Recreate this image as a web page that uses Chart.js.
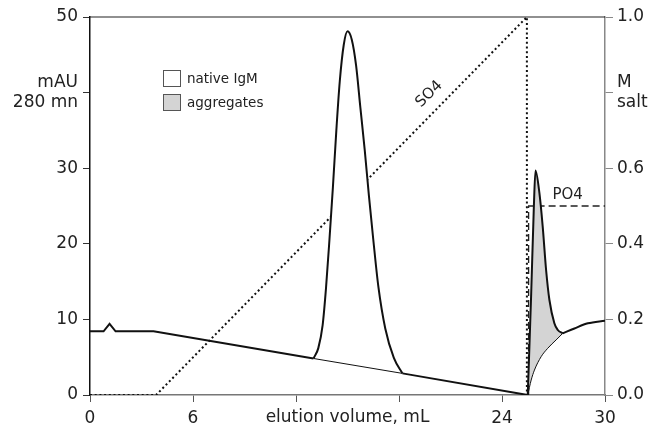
<!DOCTYPE html>
<html>
<head>
<meta charset="utf-8">
<script src="https://cdn.jsdelivr.net/npm/chart.js@4.4.1/dist/chart.umd.min.js"></script>
<style>
  html, body { margin: 0; padding: 0; background: #fff; }
  #wrap { width: 652px; height: 428px; position: relative; }
</style>
</head>
<body>
<div id="wrap"><canvas id="elutionChart"></canvas></div>
<script>
// absorbance trace (mAU 280 nm) vs elution volume (mL)
const baseLeftX = [0, 0.79, 1.14, 1.49, 3.7, 13.02];
const baseLeftY = [8.43, 8.43, 9.4, 8.43, 8.43, 4.83];

const igmPeakX = [13.02, 13.3, 13.55, 13.75, 13.95, 14.15, 14.35, 14.55, 14.78, 15.0,
                  15.25, 15.5, 15.75, 16.0, 16.25, 16.5, 16.8, 17.2, 17.7, 18.2];
const igmPeakY = [4.83, 6.2, 9.2, 14.2, 20.6, 27.5, 35.0, 41.5, 46.3, 48.1,
                  47.0, 43.6, 38.0, 32.5, 26.3, 20.6, 14.3, 8.8, 4.9, 2.86];

const igmBaseX = [13.02, 18.2];
const igmBaseY = [4.83, 2.86];

const baseMidX = [18.2, 25.5];
const baseMidY = [2.86, 0];

const aggPeakX = [25.5, 25.7, 25.85, 25.95, 26.18, 26.37, 26.57, 26.76, 27.05, 27.25, 27.54];
const aggPeakY = [0, 13.4, 24.5, 29.7, 26.7, 22.3, 16.5, 12.6, 9.5, 8.6, 8.16];

const aggBaseX = [25.5, 25.7, 25.89, 26.28, 26.66, 27.15, 27.54];
const aggBaseY = [0, 1.98, 3.3, 5.07, 6.17, 7.28, 8.16];

const tailX = [27.54, 28.22, 29.0, 30];
const tailY = [8.16, 8.8, 9.48, 9.83];

// salt gradients (M)
const so4X = [0, 3.85, 25.45, 25.45];
const so4Y = [0, 0, 1.0, 0];
const po4X = [25.55, 25.55, 30];
const po4Y = [0, 0.5, 0.5];

const legendLabels = ['native IgM', 'aggregates'];
const xTitle = 'elution volume, mL';

const FONT = '"DejaVu Sans", "Liberation Sans", Arial, sans-serif';
const INK = '#222';
const GREY_FILL = '#d4d4d4';

function pts(xs, ys) {
    return xs.map((x, i) => ({ x: x, y: ys[i] }));
}

function trace(xs, ys, extra) {
    return Object.assign({
        data: pts(xs, ys),
        borderColor: '#111',
        borderWidth: 2,
        pointRadius: 0,
        fill: false,
        tension: 0
    }, extra || {});
}

const annotations = {
    id: 'annotations',
    afterDraw(chart) {
        const { ctx, chartArea: a, scales } = chart;
        ctx.save();

        // top frame line
        ctx.strokeStyle = INK;
        ctx.lineWidth = 1.2;
        ctx.beginPath();
        ctx.moveTo(a.left, a.top);
        ctx.lineTo(a.right, a.top);
        ctx.stroke();

        ctx.fillStyle = INK;
        ctx.font = '17px ' + FONT;
        ctx.textAlign = 'center';
        ctx.textBaseline = 'middle';
        ctx.fillText(xTitle, (a.left + a.right) / 2, 418);

        // legend
        ctx.font = '13.5px ' + FONT;
        ctx.textAlign = 'left';
        ctx.lineWidth = 1;
        ctx.strokeStyle = '#555';
        const boxes = [{ fill: '#fff', y: 70.5 }, { fill: GREY_FILL, y: 94.5 }];
        boxes.forEach((b, i) => {
            ctx.fillStyle = b.fill;
            ctx.fillRect(163.5, b.y, 17, 16);
            ctx.strokeRect(163.5, b.y, 17, 16);
            ctx.fillStyle = INK;
            ctx.fillText(legendLabels[i], 187, b.y + 8.5);
        });

        // gradient labels
        ctx.font = '15px ' + FONT;
        ctx.textAlign = 'center';
        const sx = scales.x.getPixelForValue(19.76);
        const sy = scales.y2.getPixelForValue(0.796);
        ctx.save();
        ctx.translate(sx, sy);
        ctx.rotate(-Math.PI / 4);
        ctx.fillText('SO4', 0, 0);
        ctx.restore();

        ctx.fillText('PO4', scales.x.getPixelForValue(27.82), scales.y2.getPixelForValue(0.529));

        ctx.restore();
    }
};

const ctx = document.getElementById('elutionChart').getContext('2d');

const chart = new Chart(ctx, {
    type: 'line',
    data: {
        datasets: [
            trace(igmBaseX, igmBaseY, { borderWidth: 1 }),
            trace(aggBaseX, aggBaseY, { borderWidth: 1, cubicInterpolationMode: 'monotone' }),
            trace(igmPeakX, igmPeakY, {
                cubicInterpolationMode: 'monotone',
                fill: { target: 0 },
                backgroundColor: '#fff'
            }),
            trace(aggPeakX, aggPeakY, {
                cubicInterpolationMode: 'monotone',
                fill: { target: 1 },
                backgroundColor: GREY_FILL
            }),
            trace(baseLeftX, baseLeftY),
            trace(baseMidX, baseMidY),
            trace(tailX, tailY, { cubicInterpolationMode: 'monotone' }),
            trace(so4X, so4Y, {
                yAxisID: 'y2', borderColor: '#111', borderWidth: 2,
                borderDash: [2, 2.7]
            }),
            trace(po4X, po4Y, {
                yAxisID: 'y2', borderColor: '#222', borderWidth: 1.3,
                borderDash: [7, 4]
            })
        ]
    },
    options: {
        responsive: true,
        maintainAspectRatio: false,
        animation: false,
        layout: { padding: { top: 17, left: 0, right: 0, bottom: 0 } },
        plugins: { legend: { display: false }, tooltip: { enabled: false } },
        elements: { point: { radius: 0 } },
        scales: {
            x: {
                type: 'linear',
                min: 0,
                max: 30,
                border: { color: '#777', width: 1.5 },
                grid: { drawOnChartArea: false, tickLength: 7, color: '#555' },
                ticks: {
                    stepSize: 6,
                    padding: 6,
                    color: INK,
                    maxRotation: 0,
                    autoSkip: false,
                    font: { family: FONT, size: 17 },
                    callback: v => (v === 12 || v === 18) ? '' : v
                },
                afterFit: s => { s.height = 33; }
            },
            y: {
                position: 'left',
                min: 0,
                max: 50,
                border: { color: '#111', width: 1.5 },
                grid: { drawOnChartArea: false, tickLength: 7, color: '#333' },
                ticks: {
                    stepSize: 10,
                    padding: 5,
                    color: INK,
                    font: { family: FONT, size: 17, lineHeight: 1.15 },
                    callback: v => v === 40 ? ['mAU', '280 mn'] : v
                },
                afterFit: s => { s.width = 90; }
            },
            y2: {
                position: 'right',
                min: 0,
                max: 1,
                border: { color: '#888', width: 1.5 },
                grid: { drawOnChartArea: false, tickLength: 8, color: '#888' },
                ticks: {
                    stepSize: 0.2,
                    padding: 4,
                    color: INK,
                    font: { family: FONT, size: 17, lineHeight: 1.15 },
                    callback: v => Math.abs(v - 0.8) < 1e-6 ? ['M', 'salt'] : v.toFixed(1)
                },
                afterFit: s => { s.width = 47; }
            }
        }
    },
    plugins: [annotations]
});
</script>
</body>
</html>
